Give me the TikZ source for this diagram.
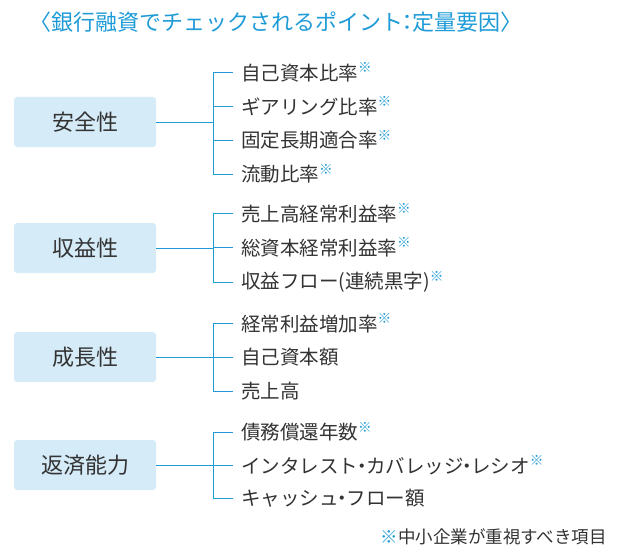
\documentclass[tikz,border=0pt]{standalone}
\usepackage{fontspec}
\setmainfont{Noto Sans CJK JP}
\definecolor{kblue}{HTML}{1E9BD7}
\definecolor{kbox}{HTML}{D5EBF8}
\definecolor{ktext}{HTML}{333333}
\newcommand{\kome}{\textsuperscript{\textcolor{kblue}{※}}}
\newcommand{\nakaten}{\kern-0.3em・\kern-0.3em}

\begin{document}
\begin{tikzpicture}[x=1pt,y=-1pt,
  cat node/.style={fill=kbox,rounded corners=3pt,minimum width=142pt,minimum height=50pt,
    font=\fontsize{22}{26}\selectfont,text=ktext},
  item node/.style={anchor=west,inner sep=0pt,font=\fontsize{19.5}{23}\selectfont,text=ktext},
  link/.style={draw=kblue,line width=0.8pt}]
  \useasboundingbox (0,0) rectangle (620,559);

  \node[anchor=west,inner sep=0pt,text=kblue,font=\fontsize{22}{26}\selectfont] (t) at (29,22)
    {〈銀行融資でチェックされるポイント\kern-0.3em：\kern-0.3em定量要因〉};

  \node[cat node]  (1) at (85,122) {安全性};
  \node[cat node]  (2) at (85,248) {収益性};
  \node[cat node]  (3) at (85,357) {成長性};
  \node[cat node]  (4) at (85,465) {返済能力};

  \node[item node] (11) at (241,72)  {自己資本比率\kome};
  \node[item node] (12) at (241,106) {ギアリング比率\kome};
  \node[item node] (13) at (241,140) {固定長期適合率\kome};
  \node[item node] (14) at (241,174) {流動比率\kome};
  \node[item node] (21) at (241,213) {売上高経常利益率\kome};
  \node[item node] (22) at (241,247) {総資本経常利益率\kome};
  \node[item node] (23) at (241,282) {収益フロー(連続黒字)\kome};
  \node[item node] (31) at (241,323) {経常利益増加率\kome};
  \node[item node] (32) at (241,357) {自己資本額};
  \node[item node] (33) at (241,391) {売上高};
  \node[item node] (41) at (241,432) {債務償還年数\kome};
  \node[item node] (42) at (241,465) {インタレスト\nakaten カバレッジ\nakaten レシオ\kome};
  \node[item node] (43) at (241,498) {キャッシュ\nakaten フロー額};

  \node[anchor=east,inner sep=0pt,text=ktext,font=\fontsize{17.5}{21}\selectfont] (n) at (607,537)
    {\textcolor{kblue}{※}中小企業が重視すべき項目};

  \coordinate (v) at (213,0);
  % brackets
  \foreach \c/\a/\b in {1/11/14,2/21/23,3/31/33,4/41/43}{
    \path[link] (\c.east) -- (\c.east -| v);
    \path[link] (\a.west -| v) -- (\b.west -| v);
  }
  \foreach \i in {11,12,13,14,21,22,23,31,32,33,41,42,43}
    \path[link] (\i.west -| v) -- ([xshift=-8pt]\i.west);
\end{tikzpicture}
\end{document}
